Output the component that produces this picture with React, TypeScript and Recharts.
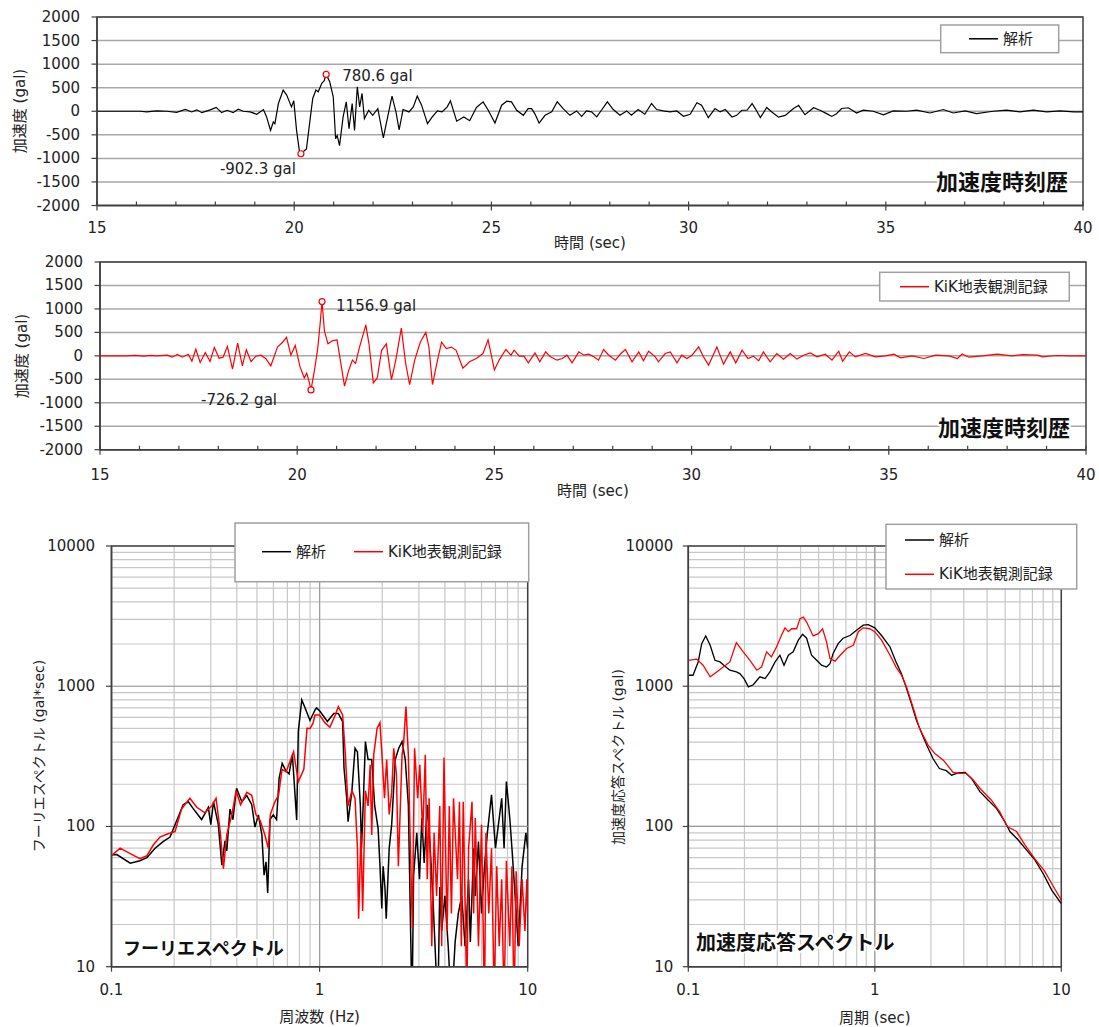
import React from 'react';
import { LineChart, Line, XAxis, YAxis, CartesianGrid, ReferenceArea, ReferenceDot, ReferenceLine } from 'recharts';

// ---- time history (解析) ----
const anaTime = [15.0, 16.09, 16.26, 16.51, 16.77, 17.02, 17.24, 17.4, 17.53, 17.66, 17.87, 18.02, 18.16, 18.3, 18.45, 18.58, 18.71, 18.88, 19.05, 19.22, 19.3, 19.4, 19.47, 19.51, 19.6, 19.72, 19.81, 19.93, 19.99, 20.06, 20.13, 20.17, 20.31, 20.4, 20.47, 20.55, 20.61, 20.7, 20.76, 20.81, 20.9, 20.99, 21.05, 21.09, 21.15, 21.24, 21.32, 21.39, 21.47, 21.53, 21.6, 21.66, 21.72, 21.78, 21.89, 21.99, 22.12, 22.26, 22.37, 22.48, 22.58, 22.66, 22.76, 22.91, 23.02, 23.12, 23.23, 23.38, 23.5, 23.63, 23.75, 23.88, 23.96, 24.12, 24.3, 24.45, 24.62, 24.79, 24.92, 25.09, 25.26, 25.39, 25.51, 25.64, 25.81, 25.93, 26.02, 26.1, 26.21, 26.36, 26.53, 26.67, 26.82, 26.99, 27.16, 27.29, 27.41, 27.54, 27.67, 27.79, 27.94, 28.09, 28.26, 28.43, 28.55, 28.72, 28.89, 29.06, 29.19, 29.36, 29.53, 29.7, 29.87, 30.04, 30.21, 30.33, 30.5, 30.67, 30.8, 30.93, 31.1, 31.22, 31.35, 31.48, 31.61, 31.69, 31.82, 31.98, 32.11, 32.28, 32.45, 32.66, 32.79, 32.95, 33.17, 33.33, 33.5, 33.63, 33.75, 33.88, 34.05, 34.26, 34.43, 34.68, 34.94, 35.19, 35.53, 35.78, 36.12, 36.46, 36.71, 37.01, 37.3, 37.72, 38.06, 38.4, 38.74, 39.08, 39.42, 39.76, 40.0];
const anaAcc = [0, 0, -15, 7, 0, -22, 37, -15, 30, -30, 30, 81, -30, 20, -30, 43, 0, -14, -64, 36, -121, -407, -228, -264, 164, 450, 343, 93, 221, -407, -835, -902.3, -800, -193, 271, 450, 414, 593, 650, 780.6, 628, 307, -585, -514, -728, -121, 200, -371, 164, -407, 521, 93, 378, -157, 21, -86, 57, -564, -121, 321, -14, -393, 36, -14, 93, 321, 129, -264, -121, 7, -14, 93, 220, -210, -120, -200, 80, 200, 21, -250, 129, 214, 200, 21, -86, 57, 57, -50, -250, -86, -14, 200, 57, -86, 7, -107, 7, -14, -121, 21, 200, 36, -86, 7, -86, 36, -64, 164, 36, 7, -14, 7, -107, -64, 179, 129, -136, 57, -14, 36, -121, -86, 21, 21, 164, 57, -136, 81, -15, -125, -88, 59, 125, -74, 74, 22, -51, -110, -51, 59, 74, -37, 22, 0, -74, 7, 0, 22, -37, 37, -37, 7, -51, 0, 22, -15, 22, -15, 7, -15, -15];

// ---- time history (KiK地表観測記録) ----
const obsTime = [15.0, 15.66, 15.9, 16.1, 16.3, 16.42, 16.71, 16.83, 16.96, 17.09, 17.24, 17.33, 17.43, 17.54, 17.67, 17.79, 17.9, 18.02, 18.12, 18.23, 18.36, 18.49, 18.61, 18.71, 18.83, 18.95, 19.08, 19.2, 19.33, 19.5, 19.63, 19.73, 19.84, 19.95, 20.07, 20.18, 20.24, 20.29, 20.35, 20.44, 20.52, 20.58, 20.63, 20.69, 20.78, 20.9, 21.01, 21.08, 21.2, 21.31, 21.4, 21.48, 21.58, 21.74, 21.82, 21.93, 22.03, 22.14, 22.26, 22.39, 22.5, 22.64, 22.75, 22.85, 22.98, 23.12, 23.26, 23.34, 23.43, 23.55, 23.66, 23.78, 23.91, 24.03, 24.2, 24.37, 24.54, 24.71, 24.84, 25.0, 25.12, 25.29, 25.42, 25.5, 25.63, 25.75, 25.86, 26.03, 26.15, 26.3, 26.42, 26.59, 26.72, 26.84, 26.97, 27.14, 27.27, 27.39, 27.52, 27.64, 27.77, 27.9, 28.07, 28.19, 28.32, 28.49, 28.66, 28.78, 28.91, 29.08, 29.16, 29.33, 29.46, 29.63, 29.75, 29.88, 30.01, 30.18, 30.3, 30.43, 30.64, 30.81, 30.98, 31.12, 31.28, 31.43, 31.57, 31.7, 31.82, 31.99, 32.16, 32.33, 32.5, 32.67, 32.84, 33.01, 33.18, 33.39, 33.56, 33.73, 33.83, 34.0, 34.15, 34.41, 34.66, 34.91, 35.13, 35.3, 35.59, 35.89, 36.19, 36.52, 36.74, 36.86, 37.03, 37.37, 37.75, 38.13, 38.39, 38.77, 38.9, 39.24, 39.58, 40.0];
const obsAcc = [0, 0, 10, -5, 8, 0, 14, -28, 28, -28, 35, -113, 140, -140, 70, -120, 180, -50, -30, 200, -285, 270, -215, 132, -125, -7, 14, -55, -215, 187, 290, 395, 14, 222, -229, -472, -368, -506, -726.2, -298, 153, 673, 1156.9, 534, 257, 326, 340, -21, -645, -298, -90, -160, 187, 660, 257, -576, -472, 118, 257, -506, -90, 590, -160, -611, -90, 290, 500, 187, -611, -125, 290, 153, 187, 118, -264, -125, -55, 49, 340, -300, -90, 135, 14, 120, -7, -7, -148, 63, -127, 85, -21, -92, -56, 14, -148, 85, 14, 35, -21, -92, 135, 14, -92, 35, 135, -127, 85, -106, 99, -21, -127, 50, 85, -148, 14, -56, 14, 190, -21, -198, 190, -177, 85, -148, 120, -56, -7, -106, 85, -127, 50, -70, 50, -70, 14, 63, -21, 35, -92, 99, -113, 85, -21, 50, -21, 0, 35, -42, 0, -56, 14, 0, -56, 42, -28, 0, 35, 0, 28, 14, -21, 7, 0, 0];

// ---- Fourier spectrum ----
const fasFreqAna = [0.1, 0.106, 0.123, 0.137, 0.148, 0.162, 0.177, 0.191, 0.202, 0.221, 0.234, 0.247, 0.271, 0.292, 0.3, 0.309, 0.326, 0.339, 0.351, 0.358, 0.371, 0.383, 0.399, 0.423, 0.447, 0.472, 0.489, 0.508, 0.528, 0.541, 0.553, 0.563, 0.578, 0.599, 0.621, 0.639, 0.661, 0.688, 0.713, 0.74, 0.761, 0.776, 0.79, 0.821, 0.852, 0.899, 0.952, 0.968, 1.006, 1.09, 1.17, 1.23, 1.29, 1.31, 1.35, 1.37, 1.43, 1.48, 1.52, 1.57, 1.59, 1.62, 1.66, 1.71, 1.78, 1.84, 1.91, 1.95, 1.99, 2.02, 2.06, 2.09, 2.16, 2.22, 2.31, 2.4, 2.49, 2.58, 2.67, 2.78, 2.83, 2.93, 3.02, 3.1, 3.18, 3.29, 3.4, 3.5, 3.7, 3.78, 3.86, 4.0, 4.15, 4.3, 4.48, 4.64, 4.82, 5.0, 5.2, 5.3, 5.5, 5.6, 5.8, 6.0, 6.2, 6.4, 6.7, 7.0, 7.3, 7.5, 7.7, 7.9, 8.2, 8.4, 8.7, 9.0, 9.4, 9.8, 10];
const fasAna = [62.8, 63, 54.7, 57, 60, 70, 78, 84, 103, 143, 150, 134, 112, 137, 103, 150, 103, 53, 79, 67, 133, 112, 187, 150, 166, 143, 99, 121, 87, 45, 56, 33.5, 112, 121, 112, 221, 282, 250, 237, 324, 173, 111, 475, 798, 700, 570, 680, 700, 660, 560, 640, 640, 560, 261, 159, 108, 180, 361, 340, 140, 70, 143, 403, 300, 300, 140, 97, 53, 26, 52, 37, 22, 70, 103, 300, 361, 403, 300, 143, 5, 45, 90, 42, 115, 55, 143, 70, 32, 5, 37, 18, 32, 14, 5, 15, 24, 32, 14, 42, 15, 70, 32, 78, 24, 52, 90, 168, 70, 115, 159, 70, 209, 115, 70, 32, 14, 52, 90, 70];
const fasFreqObs = [0.1, 0.11, 0.123, 0.137, 0.148, 0.159, 0.171, 0.184, 0.202, 0.217, 0.238, 0.257, 0.281, 0.303, 0.318, 0.333, 0.345, 0.358, 0.379, 0.397, 0.417, 0.447, 0.472, 0.494, 0.518, 0.546, 0.567, 0.58, 0.61, 0.635, 0.66, 0.69, 0.75, 0.79, 0.84, 0.87, 0.9, 0.93, 0.95, 1.0, 1.06, 1.12, 1.19, 1.23, 1.29, 1.33, 1.37, 1.43, 1.48, 1.52, 1.54, 1.58, 1.61, 1.66, 1.71, 1.75, 1.78, 1.82, 1.89, 1.95, 2.0, 2.05, 2.1, 2.16, 2.22, 2.27, 2.34, 2.39, 2.49, 2.53, 2.6, 2.67, 2.72, 2.79, 2.86, 2.96, 3.03, 3.13, 3.22, 3.29, 3.36, 3.46, 3.55, 3.65, 3.78, 3.86, 3.96, 4.1, 4.2, 4.3, 4.4, 4.6, 4.7, 4.8, 4.9, 5.1, 5.2, 5.4, 5.5, 5.6, 5.8, 6.0, 6.2, 6.3, 6.5, 6.7, 6.9, 7.1, 7.3, 7.5, 7.7, 7.9, 8.2, 8.4, 8.6, 8.8, 9.1, 9.4, 9.7, 9.9, 10];
const fasObs = [62, 70, 64, 59, 62, 74, 84, 88, 92, 133, 159, 137, 125, 140, 159, 92, 50, 87, 122, 180, 143, 175, 167, 122, 110, 87, 70, 122, 150, 167, 256, 245, 341, 209, 256, 502, 500, 545, 624, 624, 550, 510, 624, 716, 624, 324, 140, 180, 159, 70, 22, 90, 25, 180, 140, 275, 87, 324, 502, 550, 300, 159, 300, 122, 175, 361, 237, 52, 324, 380, 716, 324, 90, 19, 361, 159, 275, 90, 324, 42, 159, 14, 90, 32, 140, 14, 310, 18, 140, 24, 159, 42, 150, 14, 150, 6, 70, 150, 24, 115, 14, 103, 5, 90, 24, 70, 6, 52, 14, 42, 5, 57, 14, 52, 5, 48, 14, 42, 18, 42, 24];

// ---- acceleration response spectrum ----
const periodAna = [0.1, 0.106, 0.113, 0.118, 0.124, 0.131, 0.139, 0.148, 0.155, 0.167, 0.181, 0.189, 0.199, 0.21, 0.223, 0.242, 0.258, 0.274, 0.292, 0.31, 0.326, 0.344, 0.365, 0.389, 0.41, 0.431, 0.458, 0.488, 0.518, 0.551, 0.575, 0.598, 0.636, 0.676, 0.736, 0.798, 0.867, 0.922, 1.0, 1.087, 1.207, 1.3, 1.39, 1.48, 1.57, 1.67, 1.77, 1.9, 2.05, 2.22, 2.42, 2.58, 2.8, 3.05, 3.3, 3.66, 4.06, 4.5, 4.99, 5.3, 5.88, 6.5, 7.2, 8.0, 8.9, 10];
const psaAna = [1198, 1198, 1490, 2014, 2284, 1960, 1531, 1490, 1412, 1301, 1265, 1230, 1134, 989, 1025, 1167, 1134, 1265, 1490, 1664, 1412, 1664, 1758, 2130, 2346, 2200, 1664, 1531, 1412, 1370, 1450, 1710, 2014, 2200, 2300, 2506, 2723, 2750, 2608, 2300, 1905, 1490, 1230, 962, 752, 573, 473, 380, 305, 259, 250, 232, 241, 243, 220, 177, 154, 134, 108, 92, 80, 68, 58, 46, 35, 28.2];
const periodObs = [0.1, 0.111, 0.12, 0.131, 0.142, 0.154, 0.167, 0.181, 0.197, 0.214, 0.233, 0.247, 0.263, 0.279, 0.297, 0.316, 0.33, 0.344, 0.358, 0.381, 0.397, 0.414, 0.431, 0.467, 0.498, 0.525, 0.551, 0.575, 0.612, 0.652, 0.706, 0.767, 0.816, 0.867, 0.939, 1.0, 1.087, 1.207, 1.3, 1.39, 1.48, 1.6, 1.74, 1.93, 2.1, 2.33, 2.63, 2.85, 3.09, 3.38, 3.73, 4.22, 4.68, 5.12, 5.76, 6.38, 7.2, 8.14, 9.1, 10];
const psaObs = [1531, 1560, 1412, 1167, 1265, 1370, 1490, 2046, 1758, 1531, 1301, 1370, 1758, 1619, 1905, 2306, 2608, 2450, 2570, 2570, 3034, 3111, 2870, 2284, 2370, 2570, 2070, 1575, 1510, 1664, 1860, 1960, 2450, 2608, 2570, 2450, 2130, 1664, 1370, 1198, 989, 714, 499, 380, 331, 297, 243, 239, 239, 214, 182, 154, 127, 100, 92, 74, 59, 48, 37, 29.9];

// ---- axis ticks ----
const timeTicks = [15, 16, 17, 18, 19, 20, 21, 22, 23, 24, 25, 26, 27, 28, 29, 30, 31, 32, 33, 34, 35, 36, 37, 38, 39, 40];
const accTicks = [-2000, -1500, -1000, -500, 0, 500, 1000, 1500, 2000];
const logXTicks = [0.1, 0.2, 0.3, 0.4, 0.5, 0.6, 0.7, 0.8, 0.9, 1, 2, 3, 4, 5, 6, 7, 8, 9, 10];
const logYTicks = [10, 20, 30, 40, 50, 60, 70, 80, 90, 100, 200, 300, 400, 500, 600, 700, 800, 900, 1000, 2000, 3000, 4000, 5000, 6000, 7000, 8000, 9000, 10000];

const FONT = '"DejaVu Sans", "Noto Sans CJK JP", sans-serif';
const AXIS = '#404040';
const TXT = '#222';

const zip = (xs: number[], ys: number[]) => xs.map((x, i) => ({ x, y: ys[i] }));
const isDecade = (v: number) => Math.abs(Math.log10(v) - Math.round(Math.log10(v))) < 1e-9;

const timeTick = (dy: number) => (p: any) => {
  const v = p.payload.value;
  const major = v % 5 === 0;
  return (
    <g>
      <line x1={p.x} x2={p.x} y1={p.y - 4} y2={major ? p.y + 5 : p.y} stroke={AXIS} strokeWidth={1.2} />
      {major && (
        <text x={p.x} y={p.y + dy} textAnchor="middle" dominantBaseline="central" fontSize={15} fontFamily={FONT} fill={TXT}>
          {v}
        </text>
      )}
    </g>
  );
};

const valueTick = (dx: number, onlyDecades: boolean) => (p: any) => {
  const v = p.payload.value;
  if (onlyDecades && !isDecade(v)) return <g />;
  return (
    <g>
      <line x1={p.x - 5.5} x2={p.x} y1={p.y} y2={p.y} stroke={AXIS} strokeWidth={1.2} />
      <text x={p.x + dx} y={p.y} textAnchor="end" dominantBaseline="central" fontSize={15} fontFamily={FONT} fill={TXT}>
        {v}
      </text>
    </g>
  );
};

const logXTick = (dy: number) => (p: any) => {
  const v = p.payload.value;
  if (!isDecade(v)) return <g />;
  return (
    <g>
      <line x1={p.x} x2={p.x} y1={p.y} y2={p.y + 5} stroke={AXIS} strokeWidth={1.2} />
      <text x={p.x} y={p.y + dy} textAnchor="middle" dominantBaseline="central" fontSize={15} fontFamily={FONT} fill={TXT}>
        {v}
      </text>
    </g>
  );
};

const peakLabel = (text: string, dx: number, dy: number, anchor: string) => (p: any) => {
  const vb = p.viewBox || {};
  const cx = vb.cx !== undefined ? vb.cx : vb.x + (vb.width || 0) / 2;
  const cy = vb.cy !== undefined ? vb.cy : vb.y + (vb.height || 0) / 2;
  return (
    <text x={cx + dx} y={cy + dy} textAnchor={anchor} dominantBaseline="central" fontSize={15} fontFamily={FONT} fill={TXT}>
      {text}
    </text>
  );
};

type TimeProps = {
  top: number;
  plotLeft: number;
  plotTop: number;
  plotW: number;
  plotH: number;
  time: number[];
  acc: number[];
  color: string;
  tickDy: number;
  maxOff: [number, number];
  minOff: [number, number];
};

function TimeChart({ top, plotLeft, plotTop, plotW, plotH, time, acc, color, tickDy, maxOff, minOff }: TimeProps) {
  const H = 260;
  const data = zip(time, acc);
  const iMax = acc.indexOf(Math.max(...acc));
  const iMin = acc.indexOf(Math.min(...acc));
  return (
    <div style={{ position: 'absolute', left: 0, top }}>
      <LineChart
        width={1099}
        height={H}
        margin={{ top: plotTop, right: 1099 - plotLeft - plotW, bottom: H - plotTop - plotH - 45, left: 0 }}
      >
        <CartesianGrid vertical={false} stroke="#a8a8a8" strokeWidth={1.5} />
        <XAxis
          dataKey="x"
          type="number"
          domain={[15, 40]}
          ticks={timeTicks}
          interval={0}
          allowDataOverflow
          height={45}
          tickSize={0}
          tickMargin={0}
          tickLine={false}
          tick={timeTick(tickDy)}
          axisLine={{ stroke: AXIS, strokeWidth: 1.5 }}
        />
        <YAxis
          type="number"
          domain={[-2000, 2000]}
          ticks={accTicks}
          interval={0}
          allowDataOverflow
          width={plotLeft}
          tickSize={0}
          tickMargin={0}
          tickLine={false}
          tick={valueTick(-17, false)}
          axisLine={{ stroke: AXIS, strokeWidth: 1.5 }}
        />
        <ReferenceArea x1={15} x2={40} y1={-2000} y2={2000} fill="none" fillOpacity={0} stroke={AXIS} strokeWidth={1.5} />
        <Line data={data} dataKey="y" type="linear" stroke={color} strokeWidth={1.2} dot={false} isAnimationActive={false} />
        <ReferenceDot
          x={time[iMax]}
          y={acc[iMax]}
          r={3}
          fill="#fff"
          stroke="#ff0000"
          strokeWidth={1.2}
          label={peakLabel(`${acc[iMax].toFixed(1)} gal`, maxOff[0], maxOff[1], 'start')}
        />
        <ReferenceDot
          x={time[iMin]}
          y={acc[iMin]}
          r={3}
          fill="#fff"
          stroke="#ff0000"
          strokeWidth={1.2}
          label={peakLabel(`${acc[iMin].toFixed(1)} gal`, minOff[0], minOff[1], 'end')}
        />
      </LineChart>
    </div>
  );
}

type LogProps = {
  left: number;
  width: number;
  plotLeft: number;
  plotW: number;
  xs1: number[];
  ys1: number[];
  xs2: number[];
  ys2: number[];
  lineW: number;
  yTickDx: number;
};

function LogChart({ left, width, plotLeft, plotW, xs1, ys1, xs2, ys2, lineW, yTickDx }: LogProps) {
  const H = 512;
  const plotTop = 31;
  const plotH = 420.7;
  return (
    <div style={{ position: 'absolute', left, top: 515 }}>
      <LineChart
        width={width}
        height={H}
        margin={{ top: plotTop, right: width - plotLeft - plotW, bottom: H - plotTop - plotH - 58, left: 0 }}
      >
        <CartesianGrid stroke="#c8c8c8" strokeWidth={1.2} />
        <XAxis
          dataKey="x"
          type="number"
          scale="log"
          domain={[0.1, 10]}
          ticks={logXTicks}
          interval={0}
          allowDataOverflow
          height={58}
          tickSize={0}
          tickMargin={0}
          tickLine={false}
          tick={logXTick(23)}
          axisLine={{ stroke: AXIS, strokeWidth: 1.5 }}
        />
        <YAxis
          type="number"
          scale="log"
          domain={[10, 10000]}
          ticks={logYTicks}
          interval={0}
          allowDataOverflow
          width={plotLeft}
          tickSize={0}
          tickMargin={0}
          tickLine={false}
          tick={valueTick(yTickDx, true)}
          axisLine={{ stroke: AXIS, strokeWidth: 1.5 }}
        />
        <ReferenceLine x={1} stroke="#9c9c9c" strokeWidth={1.2} />
        <ReferenceLine y={100} stroke="#9c9c9c" strokeWidth={1.2} />
        <ReferenceLine y={1000} stroke="#9c9c9c" strokeWidth={1.2} />
        <ReferenceArea x1={0.1} x2={10} y1={10} y2={10000} fill="none" fillOpacity={0} stroke={AXIS} strokeWidth={1.5} />
        <Line data={zip(xs1, ys1)} dataKey="y" type="linear" stroke="#000000" strokeWidth={lineW} dot={false} isAnimationActive={false} />
        <Line data={zip(xs2, ys2)} dataKey="y" type="linear" stroke="#ff0000" strokeWidth={lineW} dot={false} isAnimationActive={false} />
      </LineChart>
    </div>
  );
}

const txt = { fontFamily: FONT, fill: TXT } as const;

function LegendRow({ x, y, color, label }: { x: number; y: number; color: string; label: string }) {
  return (
    <g>
      <line x1={x} x2={x + 29} y1={y} y2={y} stroke={color} strokeWidth={1.5} />
      <text x={x + 34} y={y} dominantBaseline="central" fontSize={15} {...txt}>
        {label}
      </text>
    </g>
  );
}

function Overlay() {
  const halo = { stroke: '#ffffff', strokeWidth: 4, paintOrder: 'stroke' as const, strokeLinejoin: 'round' as const };
  return (
    <svg width={1099} height={1027} style={{ position: 'absolute', left: 0, top: 0, pointerEvents: 'none' }}>
      {/* axis titles */}
      <text x={590} y={243} textAnchor="middle" dominantBaseline="central" fontSize={15} {...txt}>時間 (sec)</text>
      <text x={593} y={491} textAnchor="middle" dominantBaseline="central" fontSize={15} {...txt}>時間 (sec)</text>
      <text x={19.5} y={111} transform="rotate(-90 19.5 111)" textAnchor="middle" dominantBaseline="central" fontSize={15} {...txt}>加速度 (gal)</text>
      <text x={21.5} y={356} transform="rotate(-90 21.5 356)" textAnchor="middle" dominantBaseline="central" fontSize={15} {...txt}>加速度 (gal)</text>
      <text x={319.6} y={1017} textAnchor="middle" dominantBaseline="central" fontSize={15} {...txt}>周波数 (Hz)</text>
      <text x={874.8} y={1018} textAnchor="middle" dominantBaseline="central" fontSize={15} {...txt}>周期 (sec)</text>
      <text x={39} y={756} transform="rotate(-90 39 756)" textAnchor="middle" dominantBaseline="central" fontSize={14} {...txt}>フーリエスペクトル (gal*sec)</text>
      <text x={617.5} y={757} transform="rotate(-90 617.5 757)" textAnchor="middle" dominantBaseline="central" fontSize={14} {...txt}>加速度応答スペクトル (gal)</text>

      {/* panel titles */}
      <text x={1068} y={182} textAnchor="end" dominantBaseline="central" fontSize={22} fontWeight="bold" fontFamily={FONT} fill="#111" {...halo}>加速度時刻歴</text>
      <text x={1070} y={428} textAnchor="end" dominantBaseline="central" fontSize={22} fontWeight="bold" fontFamily={FONT} fill="#111" {...halo}>加速度時刻歴</text>
      <text x={123} y={948} dominantBaseline="central" fontSize={18} fontWeight="bold" fontFamily={FONT} fill="#111" {...halo}>フーリエスペクトル</text>
      <text x={696} y={943} dominantBaseline="central" fontSize={20} fontWeight="bold" fontFamily={FONT} fill="#111" {...halo}>加速度応答スペクトル</text>

      {/* legends */}
      <rect x={940.7} y={25} width={118} height={27.7} fill="#fff" stroke="#a0a0a0" strokeWidth={1.5} />
      <LegendRow x={969} y={38.8} color="#000000" label="解析" />
      <rect x={879.7} y={272.3} width={189.6} height={28.7} fill="#fff" stroke="#a0a0a0" strokeWidth={1.5} />
      <LegendRow x={900} y={286.7} color="#ff0000" label="KiK地表観測記録" />
      <rect x={235} y={523} width={293.7} height={58.7} fill="#fff" stroke="#a0a0a0" strokeWidth={1.5} />
      <LegendRow x={262} y={551.7} color="#000000" label="解析" />
      <LegendRow x={354} y={551.7} color="#ff0000" label="KiK地表観測記録" />
      <rect x={886} y={524.3} width={190.7} height={64.7} fill="#fff" stroke="#a0a0a0" strokeWidth={1.5} />
      <LegendRow x={905} y={540} color="#000000" label="解析" />
      <LegendRow x={905} y={574.3} color="#ff0000" label="KiK地表観測記録" />
    </svg>
  );
}

export default function App() {
  return (
    <div style={{ position: 'absolute', left: 0, top: 0, width: 1099, height: 1027, background: '#fff', overflow: 'hidden' }}>
      <TimeChart
        top={0}
        plotLeft={97}
        plotTop={17}
        plotW={986}
        plotH={188.5}
        time={anaTime}
        acc={anaAcc}
        color="#000000"
        tickDy={22.5}
        maxOff={[16, 2]}
        minOff={[-5, 15]}
      />
      <TimeChart
        top={245}
        plotLeft={100}
        plotTop={17}
        plotW={986}
        plotH={187.7}
        time={obsTime}
        acc={obsAcc}
        color="#ff0000"
        tickDy={25}
        maxOff={[14, 4]}
        minOff={[-34, 10]}
      />
      <LogChart left={0} width={560} plotLeft={111.5} plotW={416.2} xs1={fasFreqAna} ys1={fasAna} xs2={fasFreqObs} ys2={fasObs} lineW={1.5} yTickDx={-16.5} />
      <LogChart left={560} width={539} plotLeft={128.3} plotW={373} xs1={periodAna} ys1={psaAna} xs2={periodObs} ys2={psaObs} lineW={1.3} yTickDx={-15} />
      <Overlay />
    </div>
  );
}
